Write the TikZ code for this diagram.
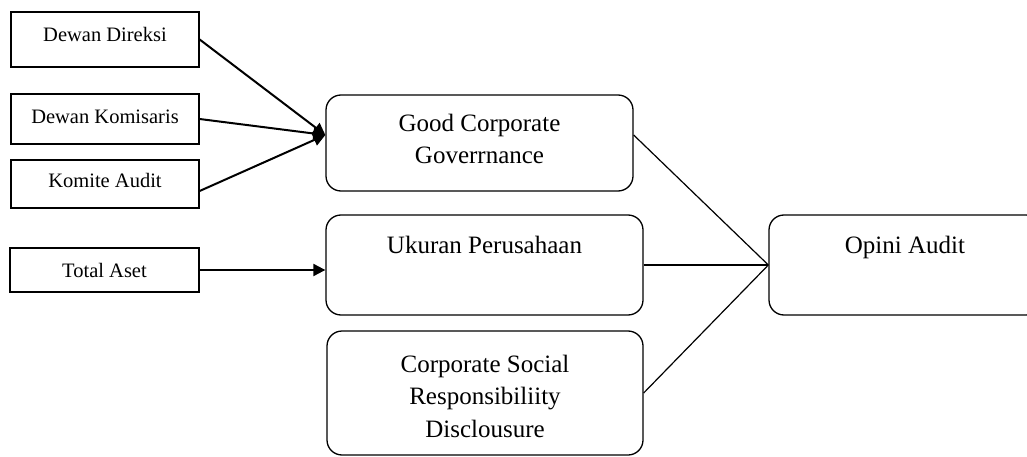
\documentclass[tikz,border=0pt]{standalone}
\usepackage{fontspec}
\setmainfont{Liberation Serif}
\usetikzlibrary{arrows.meta,calc}
\begin{document}
\begin{tikzpicture}[x=1pt,y=-1pt,
  sbox/.style={draw,line width=1.3pt,rectangle,inner sep=0pt},
  rbox/.style={draw,line width=1.3pt,rectangle,rounded corners=15pt,inner sep=0pt},
  stext/.style={anchor=base,inner sep=0pt,font=\fontsize{20.5}{24}\selectfont},
  btext/.style={anchor=base,inner sep=0pt,font=\fontsize{25}{32}\selectfont},
  inarrow/.style={line width=2pt,-{Triangle[length=12pt,width=12pt]}},
  outline/.style={line width=1.2pt}]
\useasboundingbox (0,0) rectangle (1027,457);
\clip (0,0) rectangle (1027,457);
% left boxes
\node[sbox,minimum width=188pt,minimum height=55pt] (dd) at (105,39.5) {};
\node[stext] (ddt) at (105,41.7) {Dewan Direksi};
\node[sbox,minimum width=188pt,minimum height=50pt] (dk) at (105,119) {};
\node[stext] (dkt) at (105,124) {Dewan Komisaris};
\node[sbox,minimum width=188pt,minimum height=48pt] (ka) at (105,184) {};
\node[stext] (kat) at (105,188) {Komite Audit};
\node[sbox,minimum width=189pt,minimum height=44pt] (ta) at (104.5,270) {};
\node[stext] (tat) at (104.5,277) {Total Aset};
% middle boxes
\node[rbox,minimum width=307pt,minimum height=96pt] (gcg) at (479.5,143) {};
\node[btext] (gcgt1) at (479.5,132) {Good Corporate};
\node[btext] (gcgt2) at (479.5,164) {Goverrnance};
\node[rbox,minimum width=317pt,minimum height=100pt] (uk) at (484.5,265) {};
\node[btext] (ukt) at (484.5,253) {Ukuran Perusahaan};
\node[rbox,minimum width=316pt,minimum height=124pt] (csr) at (485,393) {};
\node[btext] (csrt1) at (485,372) {Corporate Social};
\node[btext] (csrt2) at (485,404) {Responsibiliity};
\node[btext] (csrt3) at (485,437) {Disclousure};
% right box
\node[rbox,minimum width=272pt,minimum height=100pt] (op) at (905,265) {};
\node[btext] (opt) at (905,253) {Opini Audit};
% connectors
\coordinate (gin) at ($(gcg.west)+(0,-8)$);
\coordinate (gout) at ($(gcg.east)+(0,-8)$);
\coordinate (kaout) at ($(ka.east)+(0,7)$);
\draw[inarrow] (dd.east) -- (gin);
\draw[inarrow] (dk.east) -- (gin);
\draw[inarrow] (kaout) -- (gin);
\draw[inarrow] (ta.east) -- (ta.east -| uk.west);
\draw[outline] (gout) -- (op.west);
\draw[outline] (uk.east) -- (op.west);
\draw[outline] (csr.east) -- (op.west);
\end{tikzpicture}
\end{document}
